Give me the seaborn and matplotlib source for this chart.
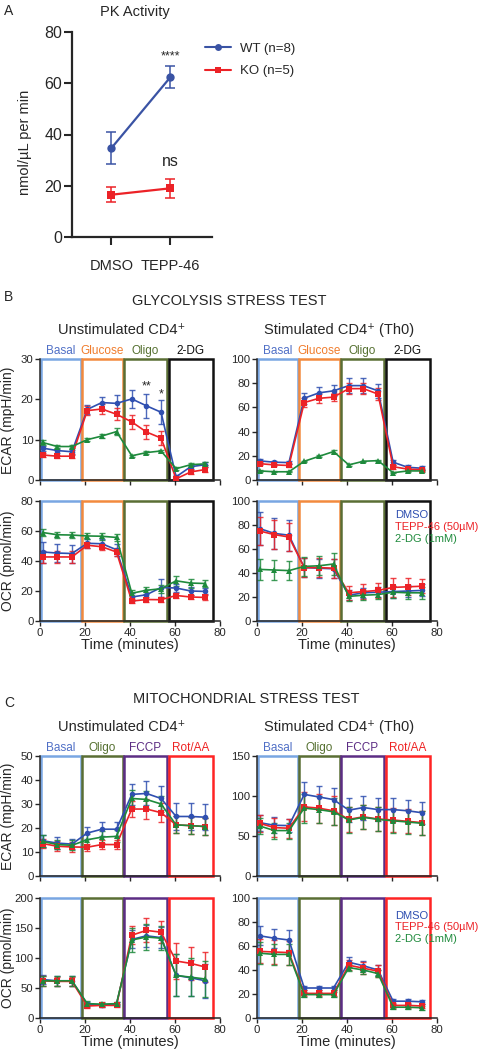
import numpy as np
import pandas as pd
import matplotlib
matplotlib.use('Agg')
import matplotlib.pyplot as plt
import seaborn as sns
from matplotlib.patches import Rectangle
from matplotlib.lines import Line2D

sns.set_style('ticks')
plt.rcParams['font.family'] = ['Liberation Sans', 'DejaVu Sans']
plt.rcParams['axes.linewidth'] = 1.1

# ---------------- DATA ----------------
# Panel A: PK activity
pk_conditions = ['DMSO', 'TEPP-46']
pk_wt = [34.7, 62.3]
pk_wt_err = [6.2, 4.3]
pk_ko = [16.5, 19.0]
pk_ko_err = [3.0, 3.7]

# Seahorse time points (minutes)
times = [1.2, 7.7, 14.2, 21.0, 27.5, 34.0, 40.8, 47.3, 53.8, 60.5, 67.0, 73.5]
groups = ['DMSO', 'TEPP-46 (50µM)', '2-DG (1mM)']

# Glycolysis stress test - ECAR, unstimulated
gly_ecar_un_dmso = [7.9, 7.3, 7.0, 17.5, 19.2, 19.0, 20.1, 18.4, 16.8, 0.8, 3.3, 3.8]
gly_ecar_un_dmso_err = [0.6, 0.5, 0.5, 1.2, 1.5, 2.0, 2.3, 3.0, 3.0, 0.5, 0.5, 0.6]
gly_ecar_un_tepp = [6.2, 5.9, 5.9, 17.2, 17.6, 16.3, 14.4, 11.9, 10.4, 0.3, 2.0, 2.6]
gly_ecar_un_tepp_err = [0.5, 0.4, 0.4, 1.2, 1.3, 1.5, 1.7, 1.7, 1.8, 0.4, 0.5, 0.6]
gly_ecar_un_2dg = [9.3, 8.3, 8.3, 10.0, 10.9, 12.0, 6.0, 6.8, 7.2, 2.8, 3.8, 4.0]
gly_ecar_un_2dg_err = [0.7, 0.4, 0.4, 0.3, 0.6, 0.8, 0.3, 0.3, 0.3, 0.4, 0.3, 0.4]

# Glycolysis stress test - ECAR, stimulated
gly_ecar_st_dmso = [15.8, 14.7, 14.4, 67.6, 72.0, 73.7, 78.0, 78.0, 73.7, 14.7, 10.5, 9.7]
gly_ecar_st_dmso_err = [1.5, 1.2, 1.2, 4.5, 4.5, 4.5, 6.0, 6.0, 6.0, 2.0, 1.5, 1.5]
gly_ecar_st_tepp = [13.5, 12.5, 12.0, 64.0, 67.5, 68.5, 75.5, 75.5, 71.0, 11.0, 9.0, 8.5]
gly_ecar_st_tepp_err = [1.2, 1.0, 1.0, 4.0, 3.5, 3.5, 4.5, 4.5, 5.0, 1.5, 1.0, 1.0]
gly_ecar_st_2dg = [7.5, 6.8, 6.8, 15.5, 19.5, 23.5, 12.5, 15.5, 16.0, 6.0, 7.5, 7.5]
gly_ecar_st_2dg_err = [0.8, 0.6, 0.6, 0.6, 0.8, 1.0, 0.6, 0.6, 0.6, 0.6, 0.6, 0.6]

# Glycolysis stress test - OCR, unstimulated
gly_ocr_un_dmso = [46.0, 45.3, 45.0, 51.8, 51.5, 47.5, 16.0, 17.5, 22.3, 22.0, 20.0, 19.7]
gly_ocr_un_dmso_err = [7.0, 6.0, 6.0, 3.0, 3.0, 4.0, 2.5, 3.0, 6.0, 2.5, 2.5, 2.0]
gly_ocr_un_tepp = [42.7, 42.7, 42.7, 50.5, 49.5, 46.0, 13.3, 14.3, 14.2, 17.0, 16.0, 15.7]
gly_ocr_un_tepp_err = [4.0, 4.0, 4.0, 2.0, 2.0, 2.5, 1.5, 1.5, 1.5, 1.5, 1.5, 1.5]
gly_ocr_un_2dg = [59.0, 57.5, 57.3, 56.7, 56.5, 55.7, 18.5, 20.5, 21.5, 26.8, 25.3, 25.0]
gly_ocr_un_2dg_err = [2.5, 2.0, 2.0, 2.2, 2.2, 2.2, 2.0, 2.5, 2.5, 3.5, 3.0, 2.5]

# Glycolysis stress test - OCR, stimulated
gly_ocr_st_dmso = [77.0, 73.0, 71.5, 44.5, 44.0, 43.5, 21.5, 23.5, 24.0, 24.5, 25.0, 25.5]
gly_ocr_st_dmso_err = [14.0, 13.0, 13.0, 8.0, 8.0, 8.0, 4.0, 4.0, 4.0, 5.0, 5.0, 5.0]
gly_ocr_st_tepp = [75.0, 72.0, 70.0, 44.5, 44.5, 44.0, 23.5, 24.5, 25.5, 28.0, 28.5, 29.0]
gly_ocr_st_tepp_err = [12.0, 12.0, 12.0, 8.0, 8.0, 8.0, 6.0, 6.0, 6.0, 8.0, 7.0, 6.0]
gly_ocr_st_2dg = [43.0, 42.5, 42.0, 45.5, 46.0, 47.5, 20.5, 21.5, 22.0, 24.0, 23.5, 23.5]
gly_ocr_st_2dg_err = [9.0, 8.0, 8.0, 8.0, 8.0, 9.0, 4.0, 4.0, 4.0, 5.0, 5.0, 5.0]

# Mito stress test - ECAR, unstimulated
mito_ecar_un_dmso = [14.7, 13.7, 13.3, 17.9, 19.5, 19.5, 34.0, 34.4, 32.3, 24.8, 24.8, 24.5]
mito_ecar_un_dmso_err = [2.5, 2.5, 2.2, 2.5, 3.0, 3.0, 4.5, 5.0, 5.0, 5.5, 5.5, 5.5]
mito_ecar_un_tepp = [13.5, 12.4, 12.1, 12.0, 13.1, 13.1, 27.9, 27.9, 26.4, 21.3, 21.0, 20.6]
mito_ecar_un_tepp_err = [2.0, 2.0, 2.0, 1.5, 2.0, 2.0, 3.5, 4.0, 4.0, 3.5, 3.5, 3.5]
mito_ecar_un_2dg = [14.4, 13.1, 12.8, 15.1, 16.2, 16.5, 32.3, 31.9, 30.0, 21.3, 21.0, 20.6]
mito_ecar_un_2dg_err = [2.5, 2.0, 2.0, 2.5, 2.5, 2.5, 3.5, 3.5, 3.5, 3.5, 3.5, 3.5]

# Mito stress test - ECAR, stimulated
mito_ecar_st_dmso = [66.7, 63.4, 63.0, 102.0, 98.8, 95.5, 82.3, 85.6, 83.0, 83.0, 81.5, 79.0]
mito_ecar_st_dmso_err = [10.0, 10.0, 8.0, 15.0, 14.0, 14.0, 15.0, 15.0, 14.0, 14.0, 14.0, 14.0]
mito_ecar_st_tepp = [65.8, 60.5, 59.7, 86.4, 84.8, 81.5, 70.8, 74.0, 71.2, 70.0, 68.3, 66.7]
mito_ecar_st_tepp_err = [11.0, 12.0, 12.0, 18.0, 18.0, 18.0, 16.0, 15.0, 15.0, 15.0, 15.0, 15.0]
mito_ecar_st_2dg = [62.5, 56.8, 56.8, 84.8, 83.0, 80.2, 70.0, 73.3, 70.8, 69.0, 67.5, 65.8]
mito_ecar_st_2dg_err = [10.0, 10.0, 10.0, 18.0, 17.0, 17.0, 16.0, 15.0, 15.0, 15.0, 15.0, 15.0]

# Mito stress test - OCR, unstimulated
mito_ocr_un_dmso = [64.0, 62.0, 62.0, 23.0, 22.0, 23.0, 131.0, 137.0, 134.0, 71.0, 67.0, 62.0]
mito_ocr_un_dmso_err = [8.0, 8.0, 8.0, 4.0, 3.0, 3.0, 15.0, 18.0, 18.0, 35.0, 30.0, 28.0]
mito_ocr_un_tepp = [62.0, 61.0, 61.0, 20.0, 21.0, 21.0, 138.0, 146.0, 143.0, 95.0, 91.0, 85.0]
mito_ocr_un_tepp_err = [8.0, 8.0, 8.0, 4.0, 3.0, 3.0, 15.0, 20.0, 18.0, 30.0, 27.0, 25.0]
mito_ocr_un_2dg = [62.0, 62.0, 62.0, 24.0, 23.0, 24.0, 130.0, 135.0, 133.0, 71.0, 68.0, 65.0]
mito_ocr_un_2dg_err = [8.0, 8.0, 8.0, 4.0, 3.0, 3.0, 20.0, 22.0, 20.0, 35.0, 32.0, 30.0]

# Mito stress test - OCR, stimulated
mito_ocr_st_dmso = [68.5, 66.5, 65.0, 25.0, 25.0, 25.0, 46.5, 43.5, 40.0, 14.0, 14.0, 13.5]
mito_ocr_st_dmso_err = [8.0, 8.0, 8.0, 2.0, 1.5, 2.0, 4.0, 4.0, 4.0, 2.0, 2.0, 1.5]
mito_ocr_st_tepp = [55.5, 55.0, 54.5, 20.5, 20.5, 20.5, 44.0, 41.5, 39.0, 10.5, 10.5, 10.0]
mito_ocr_st_tepp_err = [10.0, 10.0, 10.0, 2.5, 2.5, 2.5, 4.0, 5.0, 5.0, 2.0, 2.0, 2.0]
mito_ocr_st_2dg = [54.0, 53.0, 53.0, 19.5, 19.5, 19.5, 42.0, 40.0, 37.0, 9.0, 9.0, 8.5]
mito_ocr_st_2dg_err = [9.0, 9.0, 9.0, 2.0, 2.0, 2.0, 3.0, 3.0, 3.0, 1.5, 1.5, 1.5]

gly_phases = ['Basal', 'Glucose', 'Oligo', '2-DG']
mito_phases = ['Basal', 'Oligo', 'FCCP', 'Rot/AA']
phase_bounds = [(0.4, 18.4), (18.7, 36.8), (37.2, 56.6), (57.4, 76.8)]

# ---------------- STYLE ----------------
C_BLUE = '#2f4fb0'
C_RED = '#ec2227'
C_GREEN = '#1e8a3c'
palette = {groups[0]: C_BLUE, groups[1]: C_RED, groups[2]: C_GREEN}
markers = {groups[0]: 'o', groups[1]: 's', groups[2]: '^'}

phase_edge = {'Basal': '#79a6e2', 'Glucose': '#f28a3e', 'Oligo': '#5a6e34',
              '2-DG': '#111111', 'FCCP': '#5c2d84', 'Rot/AA': '#ff2424'}
phase_text = {'Basal': '#4f6fc6', 'Glucose': '#f07c2c', 'Oligo': '#557030',
              '2-DG': '#111111', 'FCCP': '#5c2d84', 'Rot/AA': '#ee2222'}

W, H = 482, 1050
fig = plt.figure(figsize=(W / 100, H / 100), dpi=100)


def add_ax(l, r, t, b):
    return fig.add_axes([l / W, 1 - b / H, (r - l) / W, (b - t) / H])


def fy(y):
    return 1 - y / H


# ---------------- PANEL A ----------------
axA = add_ax(72, 212, 32, 237)
dfA = pd.DataFrame({
    'cond': [0, 1, 0, 1],
    'val': pk_wt + pk_ko,
    'geno': ['WT (n=8)'] * 2 + ['KO (n=5)'] * 2,
})
sns.lineplot(data=dfA, x='cond', y='val', hue='geno', style='geno',
             palette={'WT (n=8)': '#3a53a4', 'KO (n=5)': C_RED},
             markers={'WT (n=8)': 'o', 'KO (n=5)': 's'}, dashes=False,
             markersize=6, markeredgewidth=0, linewidth=1.6, legend=False, ax=axA)
axA.errorbar([0, 1], pk_wt, yerr=pk_wt_err, fmt='none', ecolor='#3a53a4',
             elinewidth=1.1, capsize=3.5, capthick=1.1)
axA.errorbar([0, 1], pk_ko, yerr=pk_ko_err, fmt='none', ecolor=C_RED,
             elinewidth=1.1, capsize=3.5, capthick=1.1)
axA.set_xlim(-0.67, 1.71)
axA.set_ylim(0, 80)
axA.set_yticks([0, 20, 40, 60, 80])
axA.set_xticks([0, 1])
axA.set_xticklabels(pk_conditions)
axA.tick_params(axis='y', labelsize=11.5, length=5.5, width=1.5, pad=1.5)
axA.tick_params(axis='x', labelsize=10.5, length=5.5, width=1.5, pad=10)
for s in ['left', 'bottom']:
    axA.spines[s].set_linewidth(1.6)
sns.despine(ax=axA)
axA.set_xlabel('')
axA.set_ylabel('')
fig.text(25 / W, fy(142), 'nmol/µL per min', rotation=90, fontsize=10.5,
         ha='center', va='center')
fig.text(135 / W, fy(12), 'PK Activity', fontsize=10.5, ha='center', va='center')
axA.text(1, 70.5, '****', ha='center', va='center', fontsize=9)
axA.text(1, 29.5, 'ns', ha='center', va='center', fontsize=11.5)
leg_handles = [Line2D([], [], color='#3a53a4', marker='o', markersize=5, lw=1.5, markeredgewidth=0),
               Line2D([], [], color=C_RED, marker='s', markersize=5, lw=1.5, markeredgewidth=0)]
fig.legend(leg_handles, ['WT (n=8)', 'KO (n=5)'], loc='upper left',
           bbox_to_anchor=(193 / W, fy(31)), frameon=False, fontsize=9.5,
           handlelength=2.0, labelspacing=0.75, handletextpad=0.7)
fig.text(4 / W, fy(11), 'A', fontsize=10, va='center', ha='left')


# ---------------- SEAHORSE PANELS ----------------
def seahorse(ax, series, errs, ymax, ystep, phases, show_x, ylabel=None, ylab_y=None):
    for (lo, hi), ph in zip(phase_bounds, phases):
        ax.add_patch(Rectangle((lo, 0), hi - lo, ymax, fill=False,
                               edgecolor=phase_edge[ph], lw=1.8, clip_on=False, zorder=1))
    rows = []
    for g, vals in zip(groups, series):
        for t, v in zip(times, vals):
            rows.append({'time': t, 'val': v, 'group': g})
    df = pd.DataFrame(rows)
    sns.lineplot(data=df, x='time', y='val', hue='group', style='group',
                 palette=palette, markers=markers, dashes=False, markersize=4,
                 markeredgewidth=0, linewidth=1.2, legend=False, ax=ax, zorder=3)
    for g, vals, e in zip(groups, series, errs):
        ax.errorbar(times, vals, yerr=e, fmt='none', ecolor=palette[g], elinewidth=1.0,
                    capsize=2.5, capthick=1.0, alpha=0.85, zorder=2)
    ax.set_xlim(0, 80)
    ax.set_ylim(0, ymax)
    ax.set_xticks([0, 20, 40, 60, 80])
    ax.set_yticks(np.arange(0, ymax + 0.1, ystep))
    ax.tick_params(labelsize=8.2, length=3.5, width=1.0, pad=1.2)
    sns.despine(ax=ax)
    ax.set_xlabel('Time (minutes)' if show_x else '', fontsize=10.5, labelpad=0)
    if not show_x:
        ax.set_xticklabels([])
    ax.set_ylabel('')
    if ylabel:
        fig.text(8.5 / W, fy(ylab_y), ylabel, rotation=90, fontsize=10,
                 ha='center', va='center')


def phase_labels(ax, phases, ymax):
    for (lo, hi), ph in zip(phase_bounds, phases):
        ax.text((lo + hi) / 2, ymax * 1.015, ph, ha='center', va='bottom',
                fontsize=8.5, color=phase_text[ph])


def seahorse_legend(ax, y0, dy):
    for i, g in enumerate(groups):
        ax.text(61.5, y0 - i * dy, g, color=palette[g], fontsize=8.0, va='center',
                ha='left', clip_on=False)


LC = (40, 220)
RC = (257, 437)

# Panel B
fig.text(4 / W, fy(297), 'B', fontsize=10, va='center', ha='left')
fig.text(229 / W, fy(301), 'GLYCOLYSIS STRESS TEST', fontsize=10.5, ha='center', va='center')
fig.text(122 / W, fy(330), 'Unstimulated CD4\u207a', fontsize=10.5, ha='center', va='center')
fig.text(339 / W, fy(330), 'Stimulated CD4\u207a (Th0)', fontsize=10.5, ha='center', va='center')

ax = add_ax(*LC, 359, 480)
seahorse(ax, [gly_ecar_un_dmso, gly_ecar_un_tepp, gly_ecar_un_2dg],
         [gly_ecar_un_dmso_err, gly_ecar_un_tepp_err, gly_ecar_un_2dg_err],
         30, 10, gly_phases, False, 'ECAR (mpH/min)', 420)
phase_labels(ax, gly_phases, 30)
ax.text(47.3, 23.3, '**', ha='center', va='center', fontsize=9)
ax.text(53.8, 21.3, '*', ha='center', va='center', fontsize=9)

ax = add_ax(*RC, 359, 480)
seahorse(ax, [gly_ecar_st_dmso, gly_ecar_st_tepp, gly_ecar_st_2dg],
         [gly_ecar_st_dmso_err, gly_ecar_st_tepp_err, gly_ecar_st_2dg_err],
         100, 20, gly_phases, False)
phase_labels(ax, gly_phases, 100)

ax = add_ax(*LC, 501, 621)
seahorse(ax, [gly_ocr_un_dmso, gly_ocr_un_tepp, gly_ocr_un_2dg],
         [gly_ocr_un_dmso_err, gly_ocr_un_tepp_err, gly_ocr_un_2dg_err],
         80, 20, gly_phases, True, 'OCR (pmol/min)', 561)

ax = add_ax(*RC, 501, 621)
seahorse(ax, [gly_ocr_st_dmso, gly_ocr_st_tepp, gly_ocr_st_2dg],
         [gly_ocr_st_dmso_err, gly_ocr_st_tepp_err, gly_ocr_st_2dg_err],
         100, 20, gly_phases, True)
seahorse_legend(ax, 88, 10)

# Panel C
fig.text(4 / W, fy(703), 'C', fontsize=10, va='center', ha='left')
fig.text(246 / W, fy(699), 'MITOCHONDRIAL STRESS TEST', fontsize=10.5, ha='center', va='center')
fig.text(122 / W, fy(727), 'Unstimulated CD4\u207a', fontsize=10.5, ha='center', va='center')
fig.text(339 / W, fy(727), 'Stimulated CD4\u207a (Th0)', fontsize=10.5, ha='center', va='center')

ax = add_ax(*LC, 756, 876)
seahorse(ax, [mito_ecar_un_dmso, mito_ecar_un_tepp, mito_ecar_un_2dg],
         [mito_ecar_un_dmso_err, mito_ecar_un_tepp_err, mito_ecar_un_2dg_err],
         50, 10, mito_phases, False, 'ECAR (mpH/min)', 816)
phase_labels(ax, mito_phases, 50)

ax = add_ax(*RC, 756, 876)
seahorse(ax, [mito_ecar_st_dmso, mito_ecar_st_tepp, mito_ecar_st_2dg],
         [mito_ecar_st_dmso_err, mito_ecar_st_tepp_err, mito_ecar_st_2dg_err],
         150, 50, mito_phases, False)
phase_labels(ax, mito_phases, 150)

ax = add_ax(*LC, 898, 1018)
seahorse(ax, [mito_ocr_un_dmso, mito_ocr_un_tepp, mito_ocr_un_2dg],
         [mito_ocr_un_dmso_err, mito_ocr_un_tepp_err, mito_ocr_un_2dg_err],
         200, 50, mito_phases, True, 'OCR (pmol/min)', 958)

ax = add_ax(*RC, 898, 1018)
seahorse(ax, [mito_ocr_st_dmso, mito_ocr_st_tepp, mito_ocr_st_2dg],
         [mito_ocr_st_dmso_err, mito_ocr_st_tepp_err, mito_ocr_st_2dg_err],
         100, 20, mito_phases, True)
seahorse_legend(ax, 85, 9.5)

fig.savefig('out.png', dpi=100)
